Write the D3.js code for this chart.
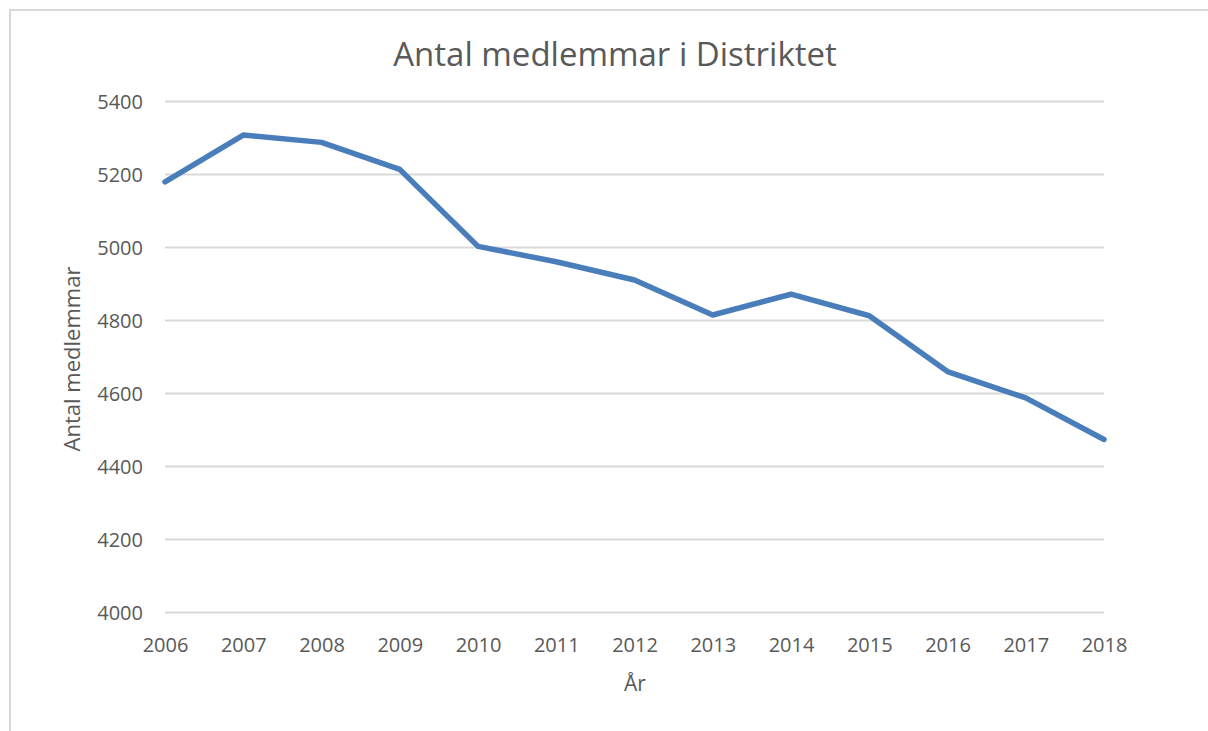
<!DOCTYPE html>
<html>
<head>
<meta charset="utf-8">
<script src="https://cdn.jsdelivr.net/npm/d3@7"></script>
<style>
  body { margin: 0; background: #fff; }
  svg { display: block; }
  text { font-family: "Open Sans", sans-serif; fill: #595959; }
</style>
</head>
<body>
<div id="chart"></div>
<script>
// data
const years = ["2006", "2007", "2008", "2009", "2010", "2011", "2012",
               "2013", "2014", "2015", "2016", "2017", "2018"];
const members = [5180, 5308, 5288, 5214, 5003, 4961, 4911,
                 4815, 4872, 4813, 4660, 4588, 4474];
const yTicks = [4000, 4200, 4400, 4600, 4800, 5000, 5200, 5400];

const chartTitle = "Antal medlemmar i Distriktet";
const xTitle = "År";
const yTitle = "Antal medlemmar";

const width = 1208, height = 731;
const margin = { top: 101.5, right: 104, bottom: 118.5, left: 165 };

const svg = d3.select("#chart").append("svg")
    .attr("width", width)
    .attr("height", height);

// chart frame (only top + left edges visible in the capture)
svg.append("path")
    .attr("d", `M10,${height} L10,10 L${width},10`)
    .attr("fill", "none")
    .attr("stroke", "#d9d9d9")
    .attr("stroke-width", 2);

const x = d3.scalePoint()
    .domain(years)
    .range([margin.left, width - margin.right]);

const y = d3.scaleLinear()
    .domain([4000, 5400])
    .range([height - margin.bottom, margin.top]);

// gridlines
svg.append("g")
    .selectAll("line")
    .data(yTicks)
    .enter().append("line")
    .attr("x1", margin.left)
    .attr("x2", width - margin.right)
    .attr("y1", d => y(d))
    .attr("y2", d => y(d))
    .attr("stroke", "#d9d9d9")
    .attr("stroke-width", 2);

// y axis labels
const yAxis = svg.append("g")
    .attr("transform", `translate(${margin.left - 22},0)`)
    .call(d3.axisLeft(y).tickValues(yTicks).tickSize(0).tickPadding(0).tickFormat(d3.format("d")));
yAxis.select(".domain").remove();
yAxis.selectAll("text")
    .style("font-size", "20px")
    .attr("fill", "#595959")
    .attr("dy", "0.35em");

// x axis labels
const xAxis = svg.append("g")
    .attr("transform", `translate(0,${height - margin.bottom})`)
    .call(d3.axisBottom(x).tickSize(0).tickPadding(25));
xAxis.select(".domain").remove();
xAxis.selectAll("text")
    .style("font-size", "20px")
    .attr("fill", "#595959");

// line
const line = d3.line()
    .x((d, i) => x(years[i]))
    .y(d => y(d));

svg.append("path")
    .datum(members)
    .attr("d", line)
    .attr("fill", "none")
    .attr("stroke", "#4a7ebb")
    .attr("stroke-width", 5.5)
    .attr("stroke-linejoin", "round")
    .attr("stroke-linecap", "round");

// titles
svg.append("text")
    .attr("x", 615)
    .attr("y", 66)
    .attr("text-anchor", "middle")
    .style("font-size", "33px")
    .text(chartTitle);

svg.append("text")
    .attr("x", 635)
    .attr("y", 691)
    .attr("text-anchor", "middle")
    .style("font-size", "21px")
    .text(xTitle);

svg.append("text")
    .attr("transform", "translate(80,359) rotate(-90)")
    .attr("text-anchor", "middle")
    .style("font-size", "22px")
    .text(yTitle);
</script>
</body>
</html>
